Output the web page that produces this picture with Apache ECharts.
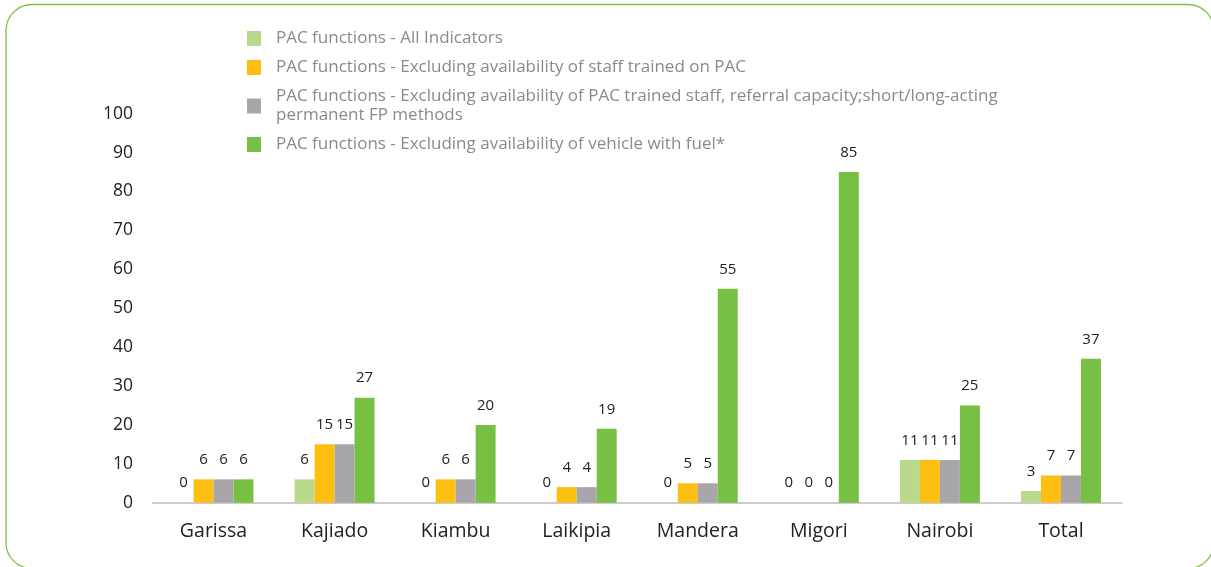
<!DOCTYPE html>
<html>
<head>
<meta charset="utf-8">
<script src="https://cdn.jsdelivr.net/npm/echarts@6/dist/echarts.min.js"></script>
<style>
html,body{margin:0;padding:0;background:#fff;}
#c{width:1211px;height:567px;}
</style>
</head>
<body>
<div id="c"></div>
<script>
var categories = ['Garissa','Kajiado','Kiambu','Laikipia','Mandera','Migori','Nairobi','Total'];
var seriesNames = [
  'PAC functions - All Indicators',
  'PAC functions - Excluding availability of staff trained on PAC',
  'PAC functions - Excluding availability of PAC trained staff, referral capacity;short/long-acting\npermanent FP methods',
  'PAC functions - Excluding availability of vehicle with fuel*'
];
var allIndicators = [0, 6, 0, 0, 0, 0, 11, 3];
var exclStaff = [6, 15, 6, 4, 5, 0, 11, 7];
var exclStaffReferral = [6, 15, 6, 4, 5, 0, 11, 7];
var exclVehicle = [6, 27, 20, 19, 55, 85, 25, 37];
var yTicks = [0, 10, 20, 30, 40, 50, 60, 70, 80, 90, 100];

var colors = ['#b9d98c', '#fcbf12', '#a8a6ab', '#77c044'];
var dataSets = [allIndicators, exclStaff, exclStaffReferral, exclVehicle];

var chart = echarts.init(document.getElementById('c'), null, {renderer: 'canvas'});
var FONT = '"Open Sans", Lato, sans-serif';

var series = dataSets.map(function (d, i) {
  return {
    name: seriesNames[i],
    type: 'bar',
    data: d,
    barGap: '0%',
    barCategoryGap: '34%',
    itemStyle: {color: colors[i]},
    label: {
      show: true,
      position: 'top',
      distance: 12,
      color: '#222',
      fontSize: 15,
      fontFamily: FONT
    }
  };
});

chart.setOption({
  animation: false,
  backgroundColor: '#fff',
  color: colors,
  graphic: [{
    type: 'rect',
    shape: {x: 6, y: 4.5, width: 1208, height: 564, r: 26},
    style: {fill: 'none', stroke: '#7dc242', lineWidth: 1.3},
    silent: true,
    z: -1
  }],
  legend: {
    orient: 'vertical',
    left: 247,
    top: 29,
    padding: 0,
    itemWidth: 14,
    itemHeight: 15,
    itemGap: 10,
    icon: 'rect',
    textStyle: {
      color: '#8a8a8a',
      fontSize: 17,
      fontFamily: FONT,
      lineHeight: 19,
      padding: [0, 0, 0, 10]
    },
    data: seriesNames
  },
  grid: {left: 153, right: 89.5, top: 113.7, bottom: 64.3, containLabel: false},
  xAxis: {
    type: 'category',
    data: categories,
    axisLine: {show: true, lineStyle: {color: '#cccccc', width: 2}},
    axisTick: {show: false},
    axisLabel: {color: '#222', fontSize: 19.5, fontFamily: FONT, margin: 19}
  },
  yAxis: {
    type: 'value',
    min: 0,
    max: 100,
    interval: 10,
    axisLine: {show: false},
    axisTick: {show: false},
    splitLine: {show: false},
    axisLabel: {
      color: '#222', fontSize: 17.5, fontFamily: FONT, margin: 20,
      formatter: function (v) { return yTicks.indexOf(v) >= 0 ? String(v) : ''; }
    }
  },
  series: series
});
</script>
</body>
</html>
